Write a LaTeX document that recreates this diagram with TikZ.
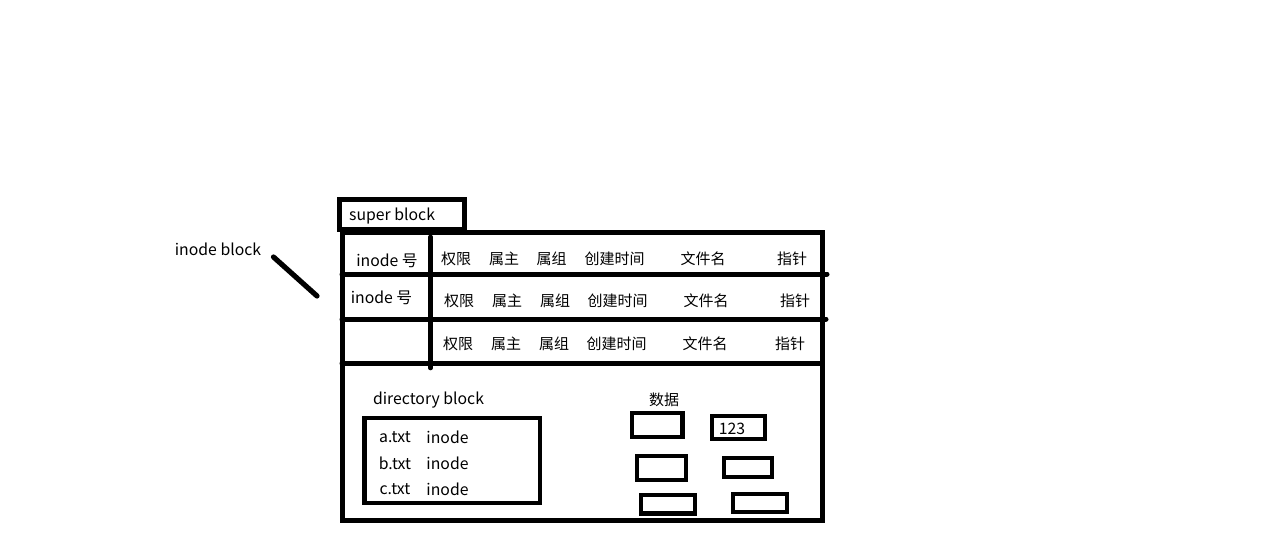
\documentclass[tikz,border=0pt]{standalone}
\usepackage{fontspec}
\setmainfont{Noto Sans CJK SC}
\usetikzlibrary{positioning}

\begin{document}
\begin{tikzpicture}[x=1pt, y=-1pt,
  txt/.style={font=\fontsize{15}{18}\selectfont, inner sep=0pt},
  ltxt/.style={font=\fontsize{15.8}{18}\selectfont, inner sep=0pt},
  frame/.style={rectangle, draw, line width=5pt, inner sep=0pt},
  databox/.style={rectangle, draw, line width=4.3pt, inner sep=0pt},
  rowline/.style={line width=5pt, line cap=round}]

\fill[white] (0,0) rectangle (1283,543);
\useasboundingbox (0,0) rectangle (1283,543);

% boxes
\node[frame, minimum width=124.5pt, minimum height=30pt] (sblk) at (401.75,214.5) {};
\node[frame, minimum width=480pt, minimum height=288pt] (disk) at (582,376.5) {};
\node[ltxt, anchor=west] (sblktxt) at (349,216) {super block};

% inode table
\draw[rowline] (342,274) -- (827,274);
\draw[rowline] (342,319) -- (826,319);
\draw[rowline] (342,363) -- (822,363);
\draw[rowline, line width=4.6pt] (430.5,237) -- (430.5,368);

\node[ltxt] (ino1) at (387,261) {inode 号};
\node[ltxt] (ino2) at (381.5,298) {inode 号};

\foreach \t/\x [count=\i] in {权限/456, 属主/504, 属组/551.5, 创建时间/614.5, 文件名/703, 指针/792}
  \node[txt] (fa\i) at (\x,259) {\t};
\foreach \t/\x [count=\i] in {权限/459, 属主/507, 属组/555, 创建时间/617.5, 文件名/706, 指针/795}
  \node[txt] (fb\i) at (\x,301) {\t};
\foreach \t/\x [count=\i] in {权限/458, 属主/506, 属组/554, 创建时间/616.5, 文件名/705, 指针/790}
  \node[txt] (fc\i) at (\x,344) {\t};

% inode block label
\node[ltxt] (iblk) at (218,249.5) {inode block};
\coordinate (slashA) at (273.5,257);
\coordinate (slashB) at (317,296);
\draw[rowline, line width=5.2pt] (slashA) -- (slashB);

% directory block
\node[ltxt] (dirtxt) at (428.5,400) {directory block};
\node[databox, minimum width=175.5pt, minimum height=85pt] (dir) at (452.25,460.5) {};
\node[ltxt] (fa) at (395,437) {a.txt};
\node[ltxt] (fb) at (395,463) {b.txt};
\node[ltxt] (fc) at (395,489) {c.txt};
\node[ltxt] (ia) at (447.5,437) {inode};
\node[ltxt] (ib) at (447.5,463) {inode};
\node[ltxt] (ic) at (447.5,489) {inode};

% data blocks
\node[txt] (data) at (664,399.5) {数据};
\node[databox, minimum width=50.5pt, minimum height=24pt] (d1) at (657.25,425) {};
\node[databox, minimum width=53pt, minimum height=23pt] (d2) at (738.5,427.5) {};
\node[ltxt] (d2txt) at (732,429) {123};
\node[databox, minimum width=49pt, minimum height=24pt] (d3) at (661.5,468) {};
\node[databox, minimum width=48pt, minimum height=19pt] (d4) at (748,467.5) {};
\node[databox, minimum width=54pt, minimum height=18.5pt] (d5) at (668,504.25) {};
\node[databox, minimum width=54pt, minimum height=18pt] (d6) at (760,503) {};

\end{tikzpicture}
\end{document}
